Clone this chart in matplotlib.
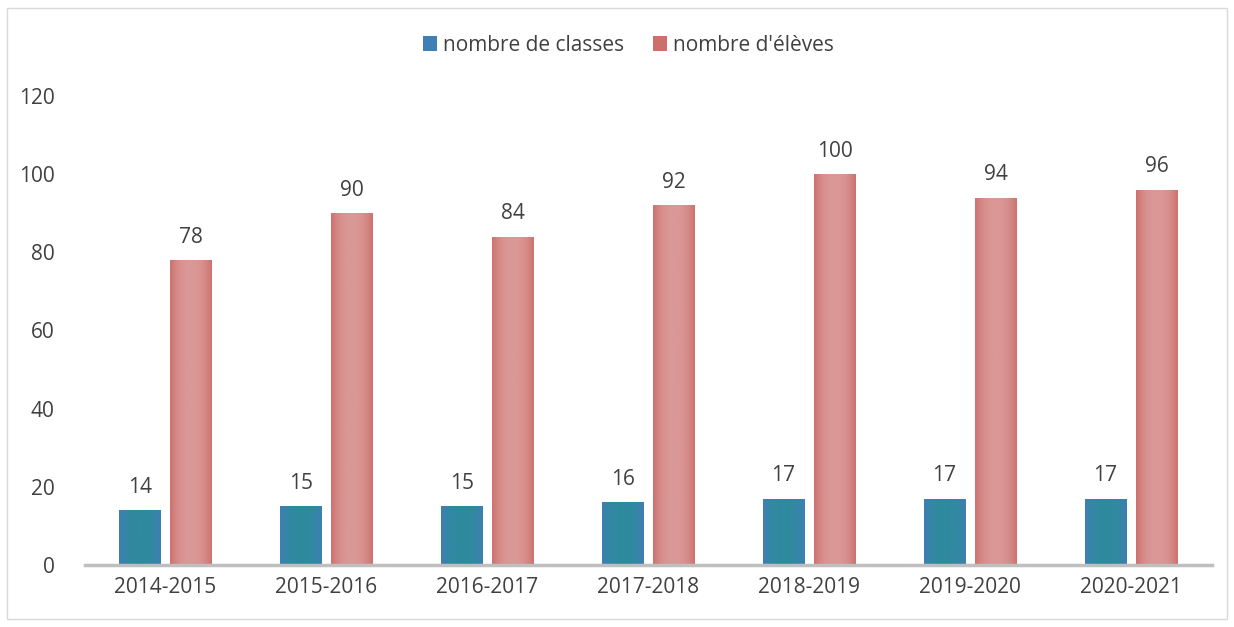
import numpy as np
import matplotlib.pyplot as plt
from matplotlib.colors import LinearSegmentedColormap
from matplotlib.patches import Rectangle

plt.rcParams['font.family'] = ['Open Sans', 'DejaVu Sans']

# data
years = ['2014-2015', '2015-2016', '2016-2017', '2017-2018',
         '2018-2019', '2019-2020', '2020-2021']
classes = [14, 15, 15, 16, 17, 17, 17]
students = [78, 90, 84, 92, 100, 94, 96]

blue_edge, blue_mid = '#3F7FB3', '#2F8A9E'
red_edge, red_mid = '#CD706C', '#DA9896'
txt = '#404040'

fig = plt.figure(figsize=(12.34, 6.27), dpi=100)
ax = fig.add_axes([0.0689, 0.0989, 0.913, 0.7480])

x = np.arange(len(years))
w = 0.26
off = 0.16
b1 = ax.bar(x - off, classes, w, color=blue_edge, label='nombre de classes')
b2 = ax.bar(x + off, students, w, color=red_edge, label="nombre d'élèves")

# horizontal gradient fill on each bar (light centre, darker sides)
grad = np.abs(np.linspace(-1, 1, 256))[None, :] ** 2.5
for bars, c0, c1 in [(b1, blue_mid, blue_edge), (b2, red_mid, red_edge)]:
    cmap = LinearSegmentedColormap.from_list('g', [c0, c1])
    for p in bars:
        x0, y0 = p.get_x(), p.get_y()
        im = ax.imshow(grad, cmap=cmap, aspect='auto', interpolation='bilinear',
                       extent=[x0, x0 + p.get_width(), y0, y0 + p.get_height()],
                       zorder=p.get_zorder() + 0.1)
        im.set_clip_path(p)

for bars, vals in [(b1, classes), (b2, students)]:
    for p, v in zip(bars, vals):
        ax.annotate(str(v), (p.get_x() + p.get_width() / 2, v),
                    xytext=(0, 9), textcoords='offset points',
                    ha='center', va='bottom', fontsize=15, color=txt)

ax.set_xlim(-0.5, len(years) - 0.5)
ax.set_ylim(0, 120)
ax.set_yticks(range(0, 121, 20))
ax.set_xticks(x)
ax.set_xticklabels(years)
ax.tick_params(axis='both', length=0, labelsize=15, labelcolor=txt)
ax.tick_params(axis='x', pad=9)
ax.tick_params(axis='y', pad=22)
for s in ['top', 'right', 'left']:
    ax.spines[s].set_visible(False)
ax.spines['bottom'].set_color('#BFBFBF')
ax.spines['bottom'].set_linewidth(2.5)

leg = fig.legend(handles=[b1, b2], loc='center', bbox_to_anchor=(0.509, 0.928),
                 ncol=2, frameon=False, fontsize=15, handlelength=0.7,
                 handleheight=0.7, handletextpad=0.25, columnspacing=1.4)
for t in leg.get_texts():
    t.set_color(txt)

fig.patches.append(Rectangle((0.006, 0.013), 0.988, 0.974, transform=fig.transFigure,
                             fill=False, edgecolor='#D9D9D9', linewidth=1))

fig.savefig('out.png', dpi=100)
